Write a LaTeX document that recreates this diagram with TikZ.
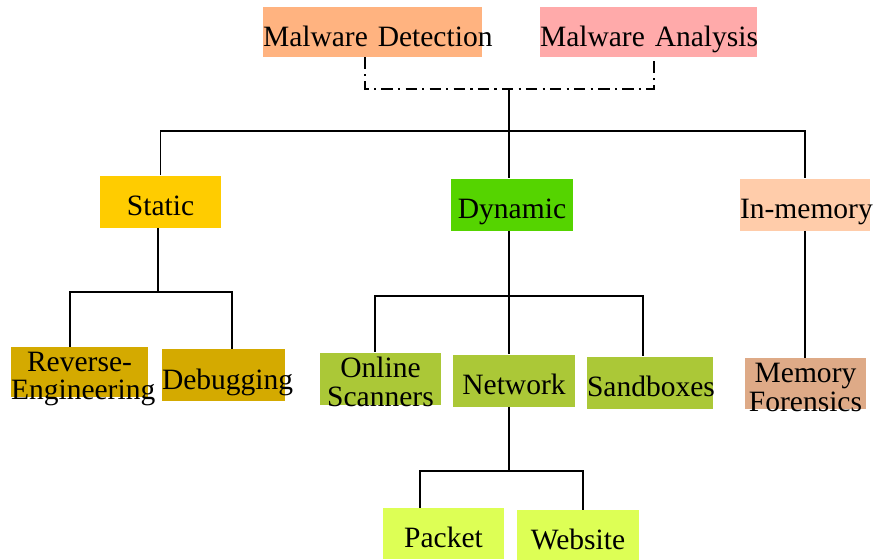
\documentclass[tikz,border=0pt]{standalone}
\usepackage{fontspec}
\setmainfont{Liberation Serif}
\usetikzlibrary{calc}

\definecolor{detcol}{RGB}{255,179,128}
\definecolor{anacol}{RGB}{255,170,170}
\definecolor{statcol}{RGB}{255,204,0}
\definecolor{dyncol}{RGB}{85,212,0}
\definecolor{memcol}{RGB}{255,204,170}
\definecolor{revcol}{RGB}{212,170,0}
\definecolor{olivecol}{RGB}{171,200,55}
\definecolor{forcol}{RGB}{222,170,135}
\definecolor{limecol}{RGB}{221,255,85}

\tikzset{
    box/.style={inner sep=0pt, text width=#1, minimum height=1.04cm, align=center,
        text height=19pt, text depth=3pt, font=\fontsize{16.8}{16.4}\selectfont},
    twobox/.style={box=#1, text height=11pt, text depth=12pt},
    link/.style={line width=1pt},
    dotlink/.style={line width=1pt, dash pattern=on 6.5pt off 3pt on 1.2pt off 3pt}
}

\begin{document}
\begin{tikzpicture}[x=0.02cm,y=-0.02cm]
    \useasboundingbox (0,0) rectangle (875,559);

    % top level
    \node[box=4.38cm, minimum height=1cm, fill=detcol] (det) at (372.5,32) {\mbox{Malware Detection}};
    \node[box=4.34cm, minimum height=1cm, fill=anacol] (ana) at (648.5,32) {\mbox{Malware Analysis}};

    % methods
    \node[box=2.42cm, fill=statcol] (static) at (160.5,201.5) {Static};
    \node[box=2.44cm, fill=dyncol] (dyn) at (512,204.5) {Dynamic};
    \node[box=2.6cm, fill=memcol] (inmem) at (805,204.5) {\mbox{In-memory}};

    % tools
    \node[twobox=2.74cm, minimum height=1cm, fill=revcol] (rev) at (79.5,372) {Reverse-\\\mbox{Engineering}};
    \node[box=2.46cm, fill=revcol] (dbg) at (223.5,375) {\mbox{Debugging}};
    \node[twobox=2.42cm, fill=olivecol] (online) at (380.5,378.5) {Online\\\mbox{Scanners}};
    \node[box=2.44cm, fill=olivecol] (net) at (514,380.5) {Network};
    \node[box=2.52cm, fill=olivecol] (sand) at (650,382.5) {\mbox{Sandboxes}};
    \node[twobox=2.42cm, minimum height=1.02cm, fill=forcol] (memf) at (805.5,383.5) {Memory\\\mbox{Forensics}};
    \node[box=2.42cm, minimum height=1.02cm, fill=limecol] (pkt) at (443.5,533.5) {Packet};
    \node[box=2.44cm, minimum height=1.02cm, fill=limecol] (web) at (578,535.5) {Website};

    % junctions
    \coordinate (top) at (509,89);
    \coordinate (bus) at (509,131);
    \coordinate (sjoin) at (158,292);
    \coordinate (djoin) at (509,296);
    \coordinate (njoin) at (509,471);

    % connectors
    \draw[dotlink] ($(det.south)+(-7.5,0)$) |- (top) -| ($(ana.south)+(5.5,0)$);
    \draw[link] (top) -- (bus);
    \draw[link] (static.north) |- (bus) -| (inmem.north);
    \draw[link] (bus) -- (bus |- dyn.north);

    \draw[link] (sjoin |- static.south) -- (sjoin);
    \draw[link] ($(rev.north)+(-9.5,0)$) |- (sjoin) -| ($(dbg.north)+(8.5,0)$);

    \draw[link] (djoin |- dyn.south) -- (djoin);
    \draw[link] ($(online.north)+(-5.5,0)$) |- (djoin) -| ($(sand.north)+(-7,0)$);
    \draw[link] (djoin) -- (djoin |- net.north);

    \draw[link] (njoin |- net.south) -- (njoin);
    \draw[link] ($(pkt.north)+(-23.5,0)$) |- (njoin) -| ($(web.north)+(5,0)$);

    \draw[link] (inmem.south) -- (inmem.south |- memf.north);
\end{tikzpicture}
\end{document}
